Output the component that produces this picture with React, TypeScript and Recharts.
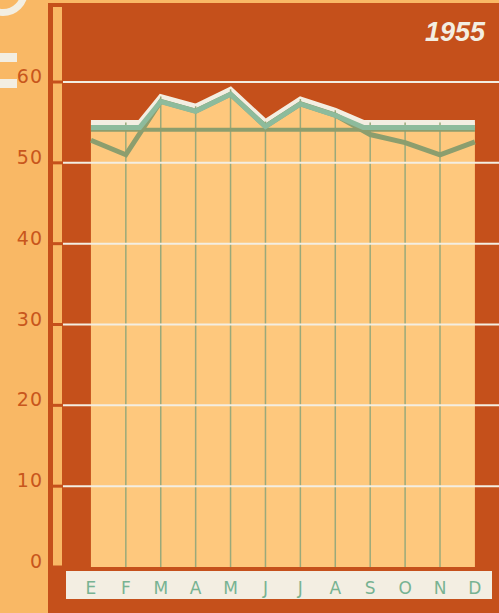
import React from 'react';
import { ComposedChart, Area, Line, XAxis, YAxis, ReferenceLine } from 'recharts';

// months in Spanish initials
const MONTHS = ['E', 'F', 'M', 'A', 'M', 'J', 'J', 'A', 'S', 'O', 'N', 'D'];
const MONTHLY = [52.8, 51.0, 57.6, 56.4, 58.5, 54.5, 57.3, 55.9, 53.5, 52.5, 51.0, 52.6];
const AVERAGE = 54.1;
// upper edge of the shaded band, x is the month index
const BAND_X = [0, 1, 1.4, 2, 3, 4, 5, 6, 7, 7.8, 8, 9, 10, 11];
const BAND_TOP = [55.0, 55.0, 55.0, 58.2, 57.0, 59.1, 55.1, 57.9, 56.5, 55.0, 55.0, 55.0, 55.0, 55.0];
const Y_TICKS = [0, 10, 20, 30, 40, 50, 60];
const YEAR = '1955';

const LIGHT = '#f9b865';
const DARK = '#c5501b';
const SAND = '#fec87d';
const WHITE = '#f3eee2';
const TEAL = '#8dbb9c';
const OLIVE = '#8c9e6e';
const THIN = '#9aa97a';

const monthlyData = MONTHLY.map((v, i) => ({ i, v }));
const bandData = BAND_X.map((x, k) => ({ i: x, top: BAND_TOP[k] }));
const bandAt = (m: number) => BAND_TOP[BAND_X.indexOf(m)];

const MonthTick = (props: any) => {
  const { x, y, payload } = props;
  return (
    <text x={x} y={y} textAnchor="middle" dominantBaseline="central"
      fontFamily="DejaVu Sans" fontSize={17} fill="#78b392">
      {MONTHS[payload.value]}
    </text>
  );
};

const ValueTick = (props: any) => {
  const { x, y, payload } = props;
  return (
    <g>
      <rect x={x + 5} y={y - 1.5} width={15} height={3} fill={DARK} />
      <text x={x} y={y - 6} textAnchor="end" dominantBaseline="central"
        fontFamily="DejaVu Sans" fontSize={19} letterSpacing={1} fill="#c8561c">
        {payload.value}
      </text>
    </g>
  );
};

export default function App() {
  return (
    <div style={{ position: 'fixed', left: 0, top: 0, width: 499, height: 613, background: LIGHT, overflow: 'hidden' }}>
      <style>{'.teal-edge path { transform: translateY(5px); }'}</style>
      {/* printed backdrop */}
      <div style={{ position: 'absolute', left: 48, top: 3, right: 0, bottom: 0, background: DARK }} />
      <div style={{ position: 'absolute', left: 53, top: 7, width: 9, height: 560, background: LIGHT }} />
      <div style={{ position: 'absolute', left: 66, top: 571, width: 426, height: 28, background: WHITE }} />
      <div style={{ position: 'absolute', left: 0, top: 53, width: 17, height: 9, background: WHITE }} />
      <div style={{ position: 'absolute', left: 0, top: 79, width: 17, height: 9, background: WHITE }} />
      <div style={{ position: 'absolute', left: -22, top: -34, width: 36, height: 36, borderRadius: '50%', border: `7px solid ${WHITE}` }} />
      <div style={{ position: 'absolute', left: 425, top: 17, color: WHITE, fontFamily: '"Liberation Sans", sans-serif', fontStyle: 'italic', fontWeight: 'bold', fontSize: 27, lineHeight: '30px' }}>
        {YEAR}
      </div>
      <div style={{ position: 'absolute', left: 0, top: 0 }}>
        <ComposedChart width={499} height={613} margin={{ top: 82, right: 0, bottom: 0, left: 0 }}>
          <XAxis
            type="number"
            dataKey="i"
            domain={[-0.8, 11.69]}
            ticks={MONTHS.map((_, i) => i)}
            allowDataOverflow
            interval={0}
            height={46}
            axisLine={false}
            tickLine={false}
            tickSize={0}
            tickMargin={21}
            tick={MonthTick}
          />
          <YAxis
            type="number"
            domain={[0, 60]}
            ticks={Y_TICKS}
            interval={0}
            width={63}
            axisLine={false}
            tickSize={13}
            tickMargin={7}
            tickLine={false}
            tick={ValueTick}
          />
          <Area
            data={bandData}
            dataKey="top"
            type="linear"
            fill={SAND}
            fillOpacity={1}
            stroke={WHITE}
            strokeWidth={5}
            isAnimationActive={false}
          />
          {MONTHS.slice(1, -1).map((_, k) => (
            <ReferenceLine
              key={`v-${k}`}
              segment={[{ x: k + 1, y: 0 }, { x: k + 1, y: bandAt(k + 1) }]}
              stroke={THIN}
              strokeWidth={1.5}
            />
          ))}
          {Y_TICKS.filter((t) => t > 0).map((t) => (
            <ReferenceLine key={`h-${t}`} y={t} stroke={WHITE} strokeWidth={2} />
          ))}
          <ReferenceLine
            segment={[{ x: 0, y: AVERAGE }, { x: MONTHS.length - 1, y: AVERAGE }]}
            stroke={OLIVE}
            strokeWidth={4}
          />
          <Line
            data={monthlyData}
            dataKey="v"
            type="linear"
            stroke={OLIVE}
            strokeWidth={5}
            dot={false}
            isAnimationActive={false}
          />
          <Line
            className="teal-edge"
            data={bandData}
            dataKey="top"
            type="linear"
            stroke={TEAL}
            strokeWidth={5}
            dot={false}
            isAnimationActive={false}
          />
        </ComposedChart>
      </div>
    </div>
  );
}
